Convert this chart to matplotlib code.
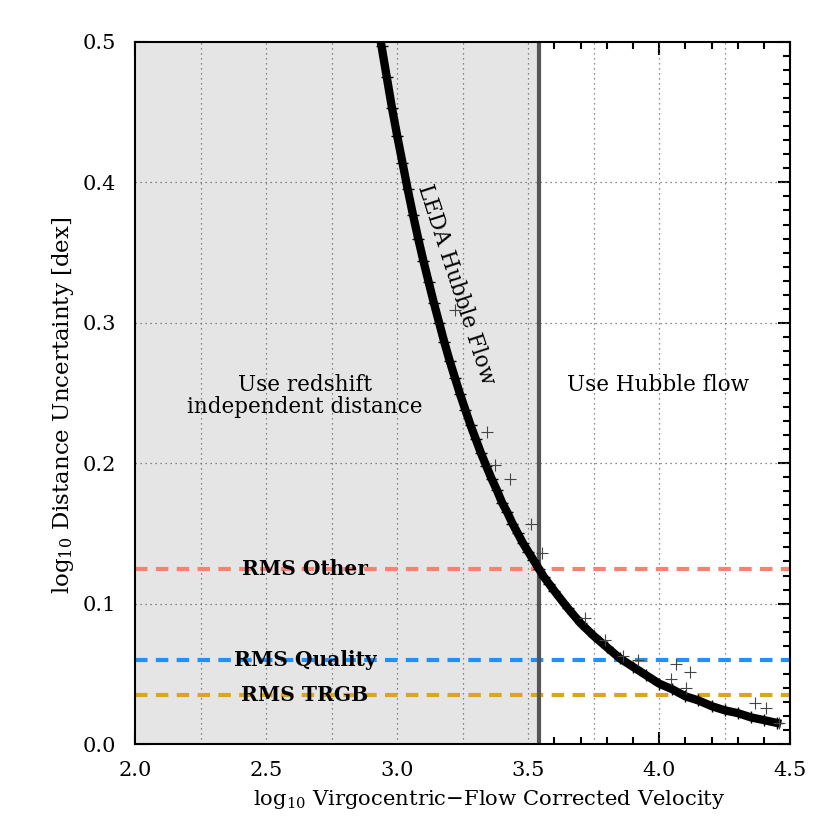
import matplotlib
matplotlib.use("Agg")
import matplotlib.pyplot as plt
from matplotlib.ticker import MultipleLocator
import numpy as np

plt.rcParams["font.family"] = "DejaVu Serif"
plt.rcParams["mathtext.fontset"] = "dejavuserif"

# LEDA Hubble flow band
flow_x = [2.94, 2.96, 2.98, 3.00, 3.02, 3.04, 3.06, 3.08, 3.10, 3.12, 3.14, 3.16,
          3.18, 3.20, 3.22, 3.24, 3.26, 3.28, 3.30, 3.32, 3.34, 3.36, 3.38, 3.40,
          3.42, 3.44, 3.46, 3.48, 3.50, 3.52, 3.54, 3.56, 3.58, 3.60, 3.65, 3.70,
          3.75, 3.80, 3.85, 3.90, 3.95, 4.00, 4.05, 4.10, 4.15, 4.20, 4.25, 4.30,
          4.35, 4.40, 4.45]
flow_y = [0.497, 0.475, 0.453, 0.433, 0.414, 0.395, 0.377, 0.360, 0.344, 0.329, 0.314, 0.300,
          0.286, 0.273, 0.261, 0.249, 0.238, 0.227, 0.217, 0.207, 0.198, 0.189, 0.181, 0.172,
          0.165, 0.157, 0.150, 0.143, 0.137, 0.131, 0.125, 0.119, 0.114, 0.109, 0.097, 0.086,
          0.077, 0.069, 0.061, 0.055, 0.049, 0.043, 0.039, 0.034, 0.031, 0.027, 0.024, 0.022,
          0.019, 0.017, 0.015]

# scattered galaxies off the main band
odd_x = [3.221, 3.342, 3.372, 3.43, 3.51, 3.553, 3.716, 3.792, 3.862, 3.919,
         4.063, 4.116, 4.047, 4.101, 4.366, 4.409, 4.456]
odd_y = [0.309, 0.222, 0.199, 0.189, 0.157, 0.136, 0.090, 0.074, 0.063, 0.060,
         0.057, 0.051, 0.046, 0.040, 0.029, 0.026, 0.015]

v_cut = 3.54
rms_names = ["RMS Other", "RMS Quality", "RMS TRGB"]
rms_vals = [0.125, 0.06, 0.035]
rms_colors = ["#fa8072", "#1e90ff", "#daa520"]

fig = plt.figure(figsize=(8.3, 8.3), dpi=100)
ax = fig.add_axes([0.163, 0.1036, 0.789, 0.8458])

ax.set_xlim(2.0, 4.5)
ax.set_ylim(0.0, 0.5)

# shaded region covers the ticks on the left like the original
ax.axvspan(2.0, v_cut, color="#e5e5e5", lw=0, zorder=2.6)
for gx in np.arange(2.25, 4.5, 0.25):
    ax.axvline(gx, color="#666666", ls=(0, (1, 3)), lw=0.9, zorder=2.7)
for gy in np.arange(0.1, 0.5, 0.1):
    ax.axhline(gy, color="#666666", ls=(0, (1, 3)), lw=0.9, zorder=2.7)

for name, val, col in zip(rms_names, rms_vals, rms_colors):
    ax.axhline(val, color=col, lw=3, ls=(0, (3, 2)), zorder=3)
    ax.text(2.647, val, name, ha="center", va="center", fontsize=14.5,
            fontweight="bold", zorder=6)

ax.axvline(v_cut, color="#555555", lw=3, zorder=3.5)

ax.plot(flow_x, flow_y, color="black", lw=6, marker="+", ms=9, mew=1, zorder=4)
ax.plot(odd_x, odd_y, ls="none", marker="+", ms=8, mew=0.8, color="#444444", zorder=4)

ax.text(2.647, 0.248, "Use redshift\nindependent distance", ha="center", va="center",
        fontsize=15.5, linespacing=1.0, zorder=6)
ax.text(3.995, 0.256, "Use Hubble flow", ha="center", va="center", fontsize=15.5, zorder=6)
ax.text(3.225, 0.327, "LEDA Hubble Flow", ha="center", va="center", fontsize=15.5,
        rotation=-72, zorder=6)

ax.xaxis.set_major_locator(MultipleLocator(0.5))
ax.xaxis.set_minor_locator(MultipleLocator(0.1))
ax.yaxis.set_major_locator(MultipleLocator(0.1))
ax.yaxis.set_minor_locator(MultipleLocator(0.01))
ax.tick_params(which="both", direction="in", top=True, right=True, width=1.5, labelsize=15)
ax.tick_params(which="major", length=9)
ax.tick_params(which="minor", length=5)
ax.tick_params(axis="x", which="major", pad=12)
ax.tick_params(axis="y", which="major", pad=14)
for sp in ax.spines.values():
    sp.set_linewidth(1.5)
    sp.set_zorder(5)

ax.set_xlabel(r"log$_{10}$ Virgocentric$-$Flow Corrected Velocity", fontsize=15.2)
ax.set_ylabel(r"log$_{10}$ Distance Uncertainty [dex]", fontsize=16.5)
ax.xaxis.set_label_coords(0.541, -0.063)
ax.yaxis.set_label_coords(-0.09, 0.483)

fig.savefig("out.png", dpi=100)
